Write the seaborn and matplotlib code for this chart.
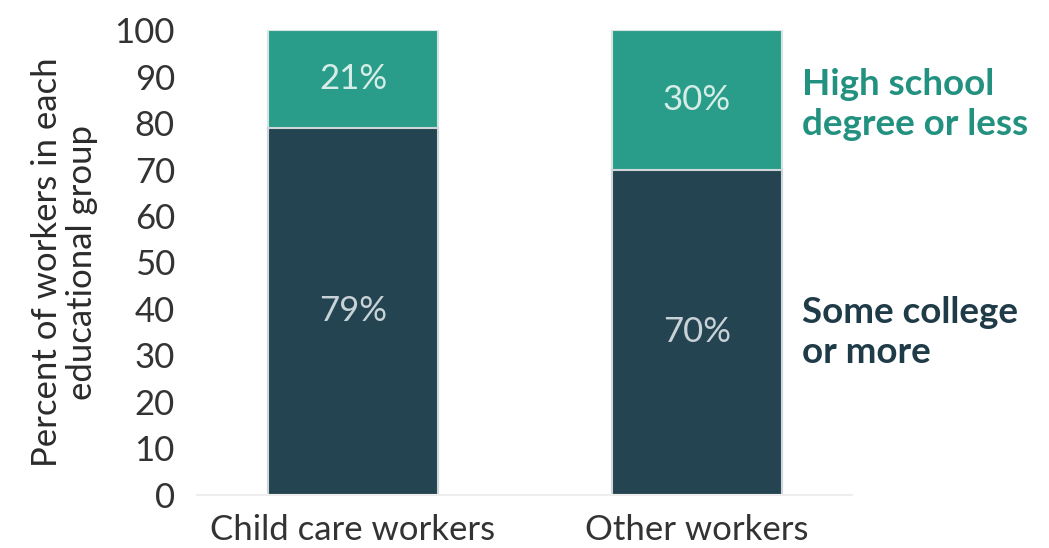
import seaborn as sns
import matplotlib.pyplot as plt
import pandas as pd

# Data
groups = ['Child care workers', 'Other workers']
some_college = [79, 70]
high_school = [21, 30]
yticks = list(range(0, 101, 10))

teal = '#2a9d8a'
navy = '#244452'

sns.set_style('white')
plt.rcParams['font.family'] = ['Lato', 'DejaVu Sans']

df = pd.DataFrame({'group': groups,
                   'some_college': some_college,
                   'high_school': high_school})
df['total'] = df['some_college'] + df['high_school']

fig = plt.figure(figsize=(10.49, 5.48), dpi=100)
ax = fig.add_axes([0.188, 0.097, 0.624, 0.848])

# Stacked bars: full height in teal, lower segment in navy on top
sns.barplot(data=df, x='group', y='total', color=teal, width=0.494,
            saturation=1, edgecolor='#d6e4e4', linewidth=1.5, ax=ax)
sns.barplot(data=df, x='group', y='some_college', color=navy, width=0.494,
            saturation=1, edgecolor='#cfd6d9', linewidth=1.5, ax=ax)

# Percent labels inside segments
for i, row in df.iterrows():
    ax.text(i, row['some_college'] / 2, f"{row['some_college']}%",
            ha='center', va='center', fontsize=25, color='#c9d3d7')
    ax.text(i, row['some_college'] + row['high_school'] / 2, f"{row['high_school']}%",
            ha='center', va='center', fontsize=25, color='#d5ece7')

# Direct labels for the series, next to the second bar
last = len(df) - 1
ax.text(last + 0.305, some_college[last] + high_school[last] / 2 - 1,
        'High school\ndegree or less', ha='left', va='center',
        fontsize=26.5, fontweight='bold', color='#23917f', linespacing=1.25)
ax.text(last + 0.305, some_college[last] / 2,
        'Some college\nor more', ha='left', va='center',
        fontsize=26.5, fontweight='bold', color='#1f3b48', linespacing=1.25)

ax.set_xlim(-0.453, 1.45)
ax.set_ylim(0, 100)
ax.set_yticks(yticks)
ax.set_xlabel('')
ax.set_ylabel('Percent of workers in each\neducational group', fontsize=25,
              color='#2b2b2b', linespacing=1.1, labelpad=12)
ax.tick_params(axis='both', length=0, labelsize=25, labelcolor='#333333')
ax.tick_params(axis='y', pad=16)
ax.tick_params(axis='x', pad=14)

sns.despine(ax=ax, left=True)
ax.spines['bottom'].set_color('#eeeeee')
ax.spines['bottom'].set_linewidth(1.5)

plt.savefig('out.png', dpi=100)
